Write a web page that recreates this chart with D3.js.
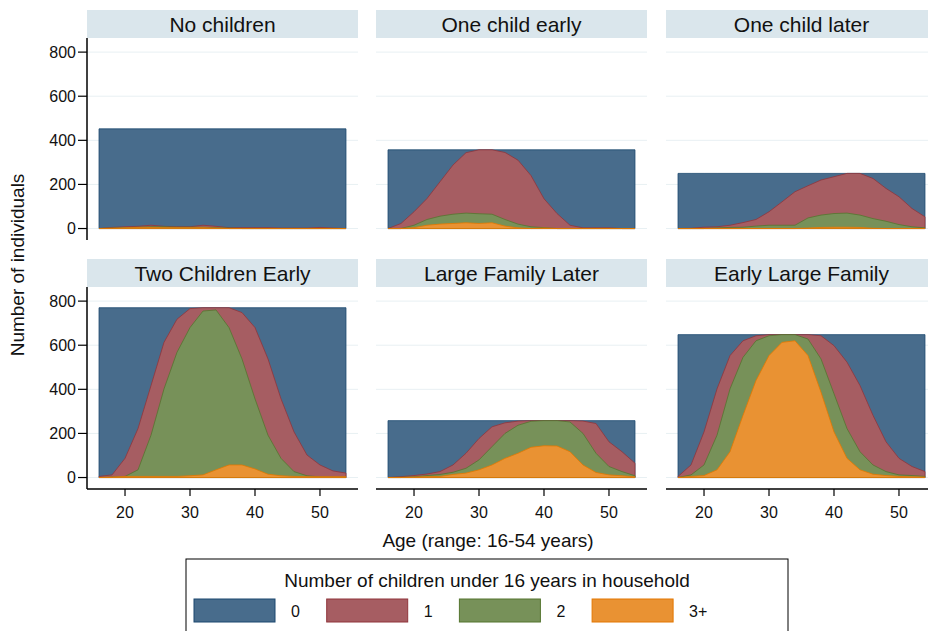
<!DOCTYPE html>
<html>
<head>
<meta charset="utf-8">
<script src="https://cdn.jsdelivr.net/npm/d3@7"></script>
<style>
  body { margin: 0; background: #fff; }
  svg { font-family: Arial, "Liberation Sans", sans-serif; display: block; }
</style>
</head>
<body>
<div id="chart"></div>
<script>
// ages every two years, 16..54
const ages = [16, 18, 20, 22, 24, 26, 28, 30, 32, 34, 36, 38, 40, 42, 44, 46, 48, 50, 52, 54];

const panelTitles = ["No children", "One child early", "One child later",
    "Two Children Early", "Large Family Later", "Early Large Family"];

// everyone in the group (category 0 area)
const totals = [452, 357, 250, 770, 258, 648];

// individuals with at least 1, 2 and 3 children, per panel
const oneOrMore = [
    [0, 5, 8, 10, 15, 10, 8, 8, 15, 10, 4, 4, 4, 4, 2, 2, 2, 5, 2, 0],
    [0, 23, 76, 136, 212, 288, 344, 357, 357, 345, 310, 240, 135, 68, 15, 3, 3, 3, 0, 0],
    [0, 1, 6, 8, 15, 27, 41, 76, 121, 167, 194, 220, 235, 250, 250, 227, 182, 144, 91, 53],
    [5, 12, 87, 222, 417, 613, 718, 766, 770, 770, 770, 748, 680, 538, 357, 207, 102, 57, 30, 20],
    [0, 4, 9, 16, 27, 57, 110, 177, 230, 248, 256, 258, 258, 258, 258, 256, 245, 162, 117, 65],
    [5, 57, 207, 402, 553, 620, 643, 648, 648, 648, 648, 643, 598, 523, 417, 282, 162, 87, 50, 27]
];
const twoOrMore = [
    [0, 2, 4, 6, 8, 8, 6, 6, 6, 4, 2, 0, 0, 0, 0, 0, 0, 0, 0, 0],
    [0, 0, 15, 41, 56, 65, 70, 67, 65, 41, 20, 8, 4, 0, 0, 0, 0, 0, 0, 0],
    [0, 0, 0, 3, 5, 6, 11, 15, 15, 15, 48, 61, 68, 70, 61, 45, 33, 18, 8, 3],
    [0, 2, 5, 35, 192, 402, 568, 680, 755, 760, 680, 538, 357, 192, 87, 27, 8, 3, 2, 2],
    [0, 1, 3, 9, 14, 24, 42, 80, 140, 200, 237, 255, 258, 258, 252, 200, 110, 50, 27, 8],
    [0, 12, 57, 192, 402, 545, 620, 643, 648, 648, 628, 538, 380, 222, 117, 57, 27, 12, 9, 5]
];
const threeOrMore = [
    [0, 1, 3, 5, 5, 4, 4, 4, 4, 2, 0, 0, 0, 0, 0, 0, 0, 0, 0, 0],
    [0, 0, 4, 15, 20, 23, 26, 23, 26, 11, 3, 0, 2, 0, 0, 0, 0, 0, 0, 0],
    [0, 0, 0, 0, 0, 0, 0, 0, 0, 0, 2, 5, 6, 6, 5, 1, 0, 0, 0, 0],
    [0, 2, 5, 5, 5, 5, 5, 8, 12, 35, 57, 57, 39, 15, 8, 5, 4, 4, 4, 4],
    [0, 0, 2, 4, 5, 14, 20, 35, 57, 87, 110, 137, 144, 143, 117, 57, 23, 12, 8, 3],
    [0, 5, 9, 35, 117, 282, 440, 553, 613, 620, 553, 387, 207, 87, 35, 15, 9, 5, 3, 2]
];

const yTicks = [0, 200, 400, 600, 800];
const xTicks = [20, 30, 40, 50];
const legendLabels = ["0", "1", "2", "3+"];

const fills = ["#486c8c", "#a65d62", "#779159", "#e99233"];
const strokes = ["#1a476f", "#90353b", "#55752f", "#e37700"];

const width = 928, height = 631;
const colX = [87, 376, 666];
const plotTop = [38, 287];
const panelW = 271, plotH = 202, headH = 28;

const svg = d3.select("#chart").append("svg")
    .attr("width", width)
    .attr("height", height);

const x = d3.scaleLinear().domain([14.15, 55.85]).range([0, panelW]);
const y = d3.scaleLinear().domain([-52, 864]).range([plotH, 0]);

const area = d3.area()
    .x(d => x(d.age))
    .y0(y(0))
    .y1(d => y(d.v));

panelTitles.forEach((title, p) => {
    const col = p % 3, row = Math.floor(p / 3);
    const g = svg.append("g")
        .attr("transform", `translate(${colX[col]}, ${plotTop[row]})`);

    // header strip
    g.append("rect")
        .attr("x", 0).attr("y", -headH)
        .attr("width", panelW).attr("height", headH)
        .attr("fill", "#dae6ec");
    g.append("text")
        .attr("x", panelW / 2).attr("y", -headH / 2)
        .attr("dy", "0.36em")
        .attr("text-anchor", "middle")
        .attr("font-size", 21)
        .attr("fill", "#111")
        .text(title);

    // gridlines
    g.selectAll(".grid")
        .data(yTicks)
        .enter().append("line")
        .attr("x1", 0).attr("x2", panelW)
        .attr("y1", d => y(d)).attr("y2", d => y(d))
        .attr("stroke", "#e8f0f3")
        .attr("stroke-width", 1);

    const series = [
        ages.map(a => ({ age: a, v: totals[p] })),
        ages.map((a, i) => ({ age: a, v: oneOrMore[p][i] })),
        ages.map((a, i) => ({ age: a, v: twoOrMore[p][i] })),
        ages.map((a, i) => ({ age: a, v: threeOrMore[p][i] }))
    ];

    series.forEach((s, k) => {
        g.append("path")
            .attr("d", area(s))
            .attr("fill", fills[k])
            .attr("stroke", strokes[k])
            .attr("stroke-width", 0.8);
    });

    // y axis on first column
    if (col === 0) {
        g.append("line")
            .attr("x1", 0).attr("x2", 0)
            .attr("y1", 0).attr("y2", plotH)
            .attr("stroke", "#000").attr("stroke-width", 1.5);
        g.selectAll(".ytick")
            .data(yTicks)
            .enter().append("line")
            .attr("x1", -9).attr("x2", 0)
            .attr("y1", d => y(d)).attr("y2", d => y(d))
            .attr("stroke", "#000").attr("stroke-width", 1.2);
        g.selectAll(".ylab")
            .data(yTicks)
            .enter().append("text")
            .attr("x", -11).attr("y", d => y(d))
            .attr("dy", "0.36em")
            .attr("text-anchor", "end")
            .attr("font-size", 16)
            .attr("fill", "#111")
            .text(d => d);
    }

    // x axis on bottom row
    if (row === 1) {
        g.append("line")
            .attr("x1", 0).attr("x2", panelW)
            .attr("y1", plotH).attr("y2", plotH)
            .attr("stroke", "#000").attr("stroke-width", 1.5);
        g.selectAll(".xtick")
            .data(xTicks)
            .enter().append("line")
            .attr("x1", d => x(d)).attr("x2", d => x(d))
            .attr("y1", plotH).attr("y2", plotH + 7)
            .attr("stroke", "#000").attr("stroke-width", 1.2);
        g.selectAll(".xlab")
            .data(xTicks)
            .enter().append("text")
            .attr("x", d => x(d)).attr("y", plotH + 29)
            .attr("text-anchor", "middle")
            .attr("font-size", 16)
            .attr("fill", "#111")
            .text(d => d);
    }
});

// axis titles
svg.append("text")
    .attr("transform", "translate(24, 265) rotate(-90)")
    .attr("text-anchor", "middle")
    .attr("font-size", 19)
    .attr("fill", "#111")
    .text("Number of individuals");

svg.append("text")
    .attr("x", 488).attr("y", 547)
    .attr("text-anchor", "middle")
    .attr("font-size", 19)
    .attr("fill", "#111")
    .text("Age (range: 16-54 years)");

// legend
const legend = svg.append("g").attr("transform", "translate(186, 559)");
legend.append("rect")
    .attr("x", 0).attr("y", 0)
    .attr("width", 602).attr("height", 90)
    .attr("fill", "#fff")
    .attr("stroke", "#000").attr("stroke-width", 1);
legend.append("text")
    .attr("x", 301).attr("y", 28)
    .attr("text-anchor", "middle")
    .attr("font-size", 19)
    .attr("fill", "#111")
    .text("Number of children under 16 years in household");

const items = legend.selectAll(".item")
    .data(legendLabels)
    .enter().append("g")
    .attr("transform", (d, i) => `translate(${8 + i * 132.7}, 40)`);
items.append("rect")
    .attr("width", 81).attr("height", 23)
    .attr("fill", (d, i) => fills[i])
    .attr("stroke", (d, i) => strokes[i])
    .attr("stroke-width", 1);
items.append("text")
    .attr("x", 97).attr("y", 12)
    .attr("dy", "0.36em")
    .attr("font-size", 16)
    .attr("fill", "#111")
    .text(d => d);
</script>
</body>
</html>
